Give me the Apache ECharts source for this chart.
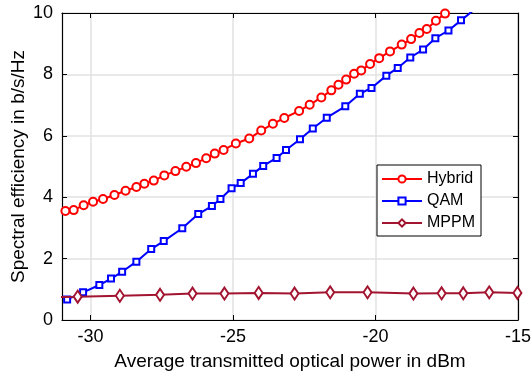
<!DOCTYPE html>
<html>
<head>
<meta charset="utf-8">
<script src="https://cdn.jsdelivr.net/npm/echarts@6/dist/echarts.min.js"></script>
<style>
  html, body { margin: 0; padding: 0; background: #fff; }
  #chart { width: 532px; height: 379px; }
</style>
</head>
<body>
<div id="chart"></div>
<script>
// values
const hybridX = [-30.88, -30.59, -30.24, -29.91, -29.56, -29.16, -28.77, -28.39, -28.11, -27.78,
  -27.41, -27.02, -26.64, -26.30, -25.94, -25.64, -25.33, -24.90, -24.43, -24.01,
  -23.60, -23.20, -22.68, -22.31, -21.90, -21.55, -21.30, -21.03, -20.75, -20.50,
  -20.19, -19.87, -19.49, -19.08, -18.75, -18.46, -18.20, -17.88, -17.56]
const hybridY = [3.55, 3.58, 3.74, 3.85, 3.94, 4.07, 4.21, 4.33, 4.44, 4.54,
  4.71, 4.85, 4.99, 5.11, 5.27, 5.42, 5.54, 5.75, 5.91, 6.17,
  6.39, 6.58, 6.81, 7.01, 7.25, 7.48, 7.66, 7.83, 8.02, 8.13,
  8.34, 8.53, 8.75, 8.97, 9.15, 9.35, 9.48, 9.75, 9.98]

const qamX = [-30.82, -30.26, -29.69, -29.28, -28.89, -28.39, -27.87, -27.43, -26.78, -26.22,
  -25.74, -25.44, -25.05, -24.73, -24.30, -23.94, -23.47, -23.14, -22.65, -22.20,
  -21.71, -21.06, -20.55, -20.14, -19.62, -19.22, -18.78, -18.33, -17.90, -17.44,
  -17.00, -16.56]
const qamY = [0.67, 0.90, 1.14, 1.35, 1.57, 1.90, 2.31, 2.57, 2.99, 3.45,
  3.71, 3.94, 4.29, 4.46, 4.76, 5.02, 5.28, 5.54, 5.89, 6.24,
  6.59, 6.96, 7.37, 7.56, 7.96, 8.21, 8.55, 8.81, 9.18, 9.43,
  9.76, 10.09]

const mppmX = [-31.30, -30.45, -28.97, -27.56, -26.42, -25.30, -24.10, -22.84, -21.59, -20.28,
  -18.67, -17.68, -16.92, -16.01, -15.02]
const mppmY = [0.75, 0.76, 0.79, 0.82, 0.86, 0.86, 0.88, 0.86, 0.90, 0.90,
  0.86, 0.87, 0.87, 0.90, 0.88]

const xTicks = [-30, -25, -20, -15]

const pairs = (xs, ys) => xs.map((x, i) => [x, ys[i]])

const FONT = '"Liberation Sans", Arial, Helvetica, sans-serif'
const gridColor = '#e2e2e2'

const chart = echarts.init(document.getElementById('chart'), null, { renderer: 'canvas' })

const tickInside = { show: true, inside: true, length: 5, lineStyle: { color: '#000', width: 1 } }
const boxLine = { show: true, onZero: false, lineStyle: { color: '#000', width: 1.2 } }

const option = {
  backgroundColor: '#fff',
  animation: false,
  textStyle: { fontFamily: FONT, color: '#000' },
  grid: { left: 62, right: 14, top: 13, bottom: 59, containLabel: false, outerBoundsMode: 'none' },
  legend: {
    orient: 'vertical',
    left: 377,
    top: 165,
    backgroundColor: '#fff',
    borderColor: '#000',
    borderWidth: 1,
    borderRadius: 0,
    padding: [6, 6, 5, 4],
    itemWidth: 40,
    itemHeight: 9,
    itemGap: 6,
    textStyle: { fontFamily: FONT, fontSize: 16, color: '#000' },
    data: ['Hybrid', 'QAM', 'MPPM']
  },
  xAxis: [
    {
      type: 'value',
      min: -31,
      max: -15,
      name: 'Average transmitted optical power in dBm',
      nameLocation: 'middle',
      nameGap: 32,
      nameMoveOverlap: false,
      nameTextStyle: { fontFamily: FONT, fontSize: 19, color: '#000' },
      axisLine: boxLine,
      axisTick: Object.assign({ customValues: xTicks }, tickInside),
      axisLabel: { customValues: xTicks, fontFamily: FONT, fontSize: 18, color: '#000', margin: 8 },
      splitLine: { show: true, lineStyle: { color: gridColor, width: 1.5 } }
    },
    {
      type: 'value',
      position: 'top',
      min: -31,
      max: -15,
      axisLine: boxLine,
      axisTick: Object.assign({ customValues: xTicks }, tickInside),
      axisLabel: { show: false },
      splitLine: { show: false }
    }
  ],
  yAxis: [
    {
      type: 'value',
      min: 0,
      max: 10,
      interval: 2,
      name: 'Spectral efficiency in b/s/Hz',
      nameLocation: 'middle',
      nameGap: 34,
      nameMoveOverlap: false,
      nameTextStyle: { fontFamily: FONT, fontSize: 19, color: '#000' },
      axisLine: boxLine,
      axisTick: tickInside,
      axisLabel: { fontFamily: FONT, fontSize: 18, color: '#000', margin: 9 },
      splitLine: { show: true, lineStyle: { color: gridColor, width: 1.5 } }
    },
    {
      type: 'value',
      position: 'right',
      min: 0,
      max: 10,
      interval: 2,
      axisLine: boxLine,
      axisTick: tickInside,
      axisLabel: { show: false },
      splitLine: { show: false }
    }
  ],
  series: [
    {
      name: 'Hybrid',
      type: 'line',
      data: pairs(hybridX, hybridY),
      symbol: 'emptyCircle',
      symbolSize: 8,
      clip: true,
      lineStyle: { color: '#ff0000', width: 2 },
      itemStyle: { color: '#ff0000', borderColor: '#ff0000', borderWidth: 2 },
      z: 3
    },
    {
      name: 'QAM',
      type: 'line',
      data: pairs(qamX, qamY),
      symbol: 'emptyRect',
      symbolSize: 6,
      clip: true,
      lineStyle: { color: '#0000ff', width: 2 },
      itemStyle: { color: '#0000ff', borderColor: '#0000ff', borderWidth: 2 },
      z: 4
    },
    {
      name: 'MPPM',
      type: 'line',
      data: pairs(mppmX, mppmY),
      symbol: 'emptyDiamond',
      symbolSize: [8, 12],
      clip: true,
      lineStyle: { color: '#a2142f', width: 2 },
      itemStyle: { color: '#a2142f', borderColor: '#a2142f', borderWidth: 2 },
      z: 5
    }
  ]
}

chart.setOption(option)
</script>
</body>
</html>
